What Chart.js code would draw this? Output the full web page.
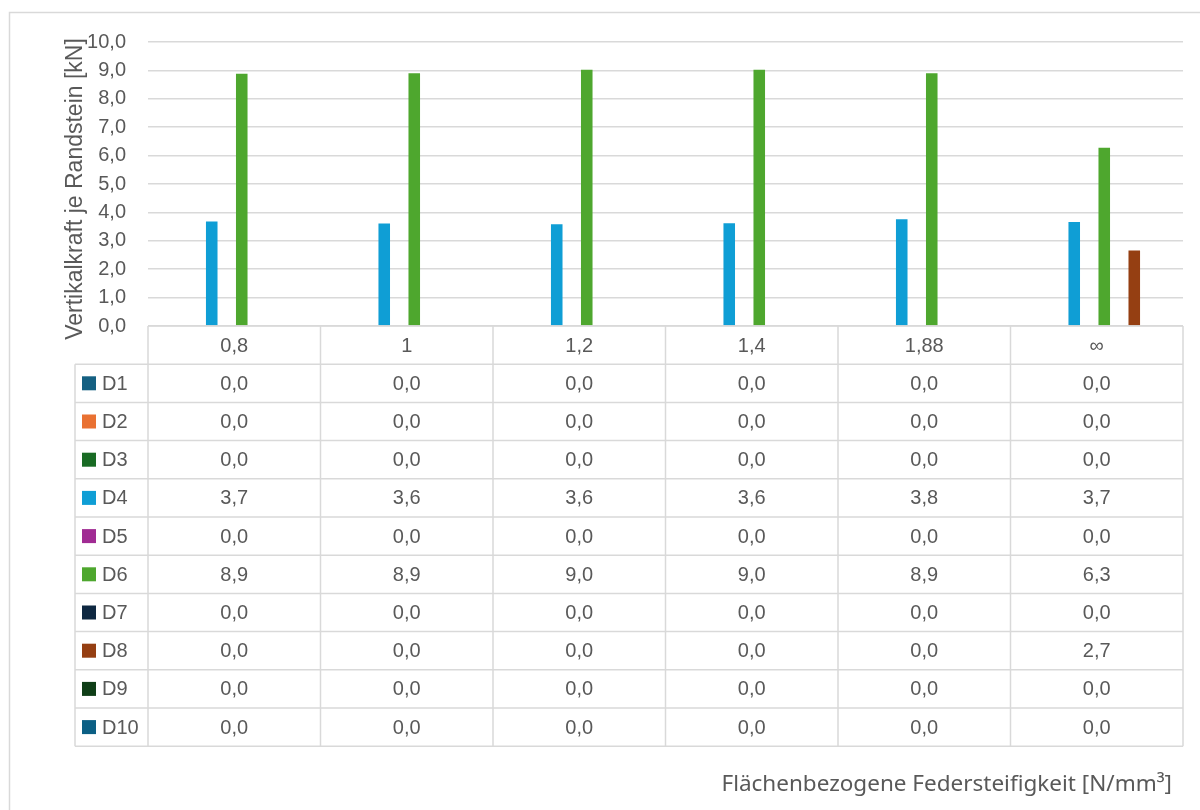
<!DOCTYPE html>
<html>
<head>
<meta charset="utf-8">
<script src="https://cdn.jsdelivr.net/npm/chart.js@4"></script>
<style>
  html, body { margin: 0; padding: 0; background: #fff; }
  #wrap { width: 1200px; height: 810px; }
</style>
</head>
<body>
<div id="wrap"><canvas id="myChart" width="1200" height="810"></canvas></div>
<script>
// Categories (x) and series
const categories = ['0,8', '1', '1,2', '1,4', '1,88', '∞'];
const seriesNames = ['D1', 'D2', 'D3', 'D4', 'D5', 'D6', 'D7', 'D8', 'D9', 'D10'];
const seriesColors = ['#156082', '#E97132', '#196B24', '#0F9ED5', '#A02B93',
                      '#4EA72E', '#0E2841', '#953F12', '#0F3E17', '#0B5F84'];
const D1  = [0, 0, 0, 0, 0, 0];
const D2  = [0, 0, 0, 0, 0, 0];
const D3  = [0, 0, 0, 0, 0, 0];
const D4  = [3.68, 3.61, 3.58, 3.62, 3.76, 3.66];
const D5  = [0, 0, 0, 0, 0, 0];
const D6  = [8.88, 8.9, 9.02, 9.02, 8.9, 6.28];
const D7  = [0, 0, 0, 0, 0, 0];
const D8  = [0, 0, 0, 0, 0, 2.66];
const D9  = [0, 0, 0, 0, 0, 0];
const D10 = [0, 0, 0, 0, 0, 0];
const seriesValues = [D1, D2, D3, D4, D5, D6, D7, D8, D9, D10];
const yTicks = [0, 1, 2, 3, 4, 5, 6, 7, 8, 9, 10];

const yTitle = 'Vertikalkraft je Randstein [kN]';
const xTitle = 'Flächenbezogene Federsteifigkeit [N/mm³]';

const textColor = '#595959';
const lineColor = '#D9D9D9';
const fontFamily = '"Liberation Sans", Arial, sans-serif';

function fmt(v) {
    return v.toFixed(1).replace('.', ',');
}

// draws data table, axis titles and frame
const tablePlugin = {
    id: 'dataTable',
    beforeDraw(chart) {
        const c = chart.ctx;
        c.save();
        c.fillStyle = '#fff';
        c.fillRect(0, 0, chart.width, chart.height);
        c.restore();
    },
    afterDraw(chart) {
        const c = chart.ctx;
        const area = chart.chartArea;
        const x = chart.scales.x;
        const colW = (area.right - area.left) / categories.length;
        const rowH = 38.2;
        const legendLeft = 75;
        const top = area.bottom;
        const nRows = seriesNames.length;
        const bottom = top + rowH * (nRows + 1);

        c.save();
        c.strokeStyle = lineColor;
        c.lineWidth = 1.5;

        // horizontal lines
        c.beginPath();
        c.moveTo(area.left, top);
        c.lineTo(area.right, top);
        for (let r = 1; r <= nRows + 1; r++) {
            const y = top + r * rowH;
            c.moveTo(legendLeft, y);
            c.lineTo(area.right, y);
        }
        // vertical lines
        for (let i = 0; i <= categories.length; i++) {
            const xx = area.left + i * colW;
            c.moveTo(xx, top);
            c.lineTo(xx, bottom);
        }
        c.moveTo(legendLeft, top + rowH);
        c.lineTo(legendLeft, bottom);
        c.stroke();

        c.font = '20px ' + fontFamily;
        c.fillStyle = textColor;
        c.textAlign = 'center';
        c.textBaseline = 'middle';

        // header row
        categories.forEach((cat, i) => {
            c.fillText(cat, x.getPixelForValue(i), top + rowH / 2 + 1);
        });

        // series rows
        seriesNames.forEach((name, r) => {
            const yc = top + (r + 1) * rowH + rowH / 2 + 1;
            c.fillStyle = seriesColors[r];
            c.fillRect(82, yc - 8, 14, 14);
            c.fillStyle = textColor;
            c.textAlign = 'left';
            c.fillText(name, 102, yc);
            c.textAlign = 'center';
            seriesValues[r].forEach((v, i) => {
                c.fillText(fmt(v), x.getPixelForValue(i), yc);
            });
        });

        // y axis title
        c.save();
        c.translate(76, 189);
        c.rotate(-Math.PI / 2);
        c.font = '23px ' + fontFamily;
        c.textAlign = 'center';
        c.textBaseline = 'middle';
        c.fillText(yTitle, 0, 0);
        c.restore();

        // x axis title
        c.font = '22.5px "Noto Sans", "Open Sans", sans-serif';
        c.textAlign = 'right';
        c.textBaseline = 'middle';
        c.fillText(xTitle, 1172, 785);

        // chart frame
        c.strokeStyle = lineColor;
        c.lineWidth = 1.5;
        c.strokeRect(9.5, 12.5, 1200, 820);
        c.restore();
    }
};

const ctx = document.getElementById('myChart').getContext('2d');
const myChart = new Chart(ctx, {
    type: 'bar',
    data: {
        labels: categories,
        datasets: seriesNames.map((name, i) => ({
            label: name,
            data: seriesValues[i],
            backgroundColor: seriesColors[i],
            borderWidth: 0,
            categoryPercentage: 0.87,
            barPercentage: 0.77
        }))
    },
    options: {
        responsive: false,
        animation: false,
        layout: {
            padding: { top: 42, right: 17, bottom: 484, left: 0 }
        },
        plugins: {
            legend: { display: false },
            tooltip: { enabled: false }
        },
        scales: {
            x: {
                display: false
            },
            y: {
                min: 0,
                max: 10,
                afterFit(scale) { scale.width = 148; },
                afterBuildTicks(scale) {
                    scale.ticks = yTicks.map(v => ({ value: v }));
                },
                border: { display: false },
                grid: { color: lineColor, lineWidth: 1.5, drawTicks: false },
                ticks: {
                    padding: 22,
                    color: textColor,
                    font: { size: 20, family: fontFamily },
                    callback: v => fmt(v)
                }
            }
        }
    },
    plugins: [tablePlugin]
});
</script>
</body>
</html>
